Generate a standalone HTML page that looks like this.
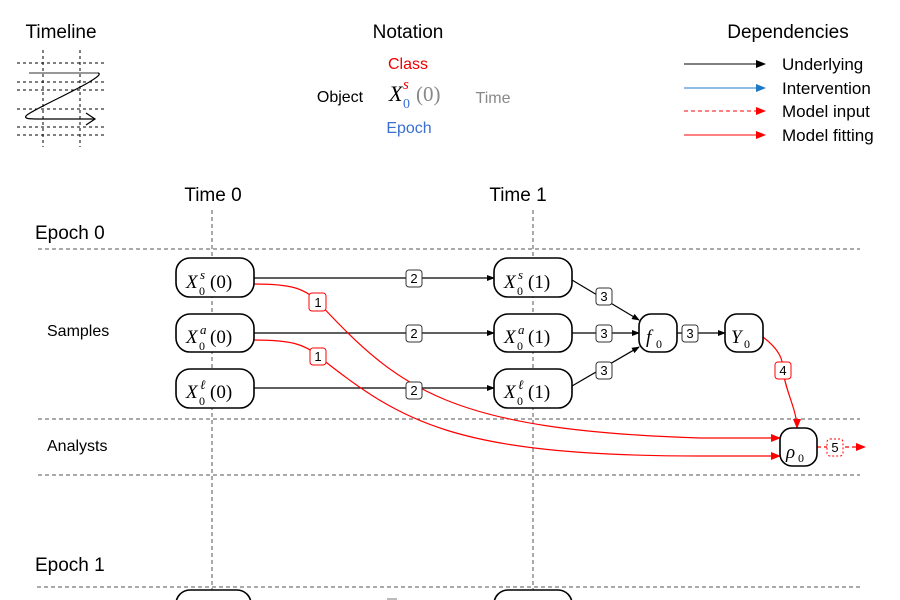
<!DOCTYPE html>
<html><head><style>
body{margin:0;background:#fff;}
svg{display:block;font-family:"Liberation Sans",sans-serif;}
.m{font-family:"Liberation Serif",serif;font-style:italic;}
</style></head><body>
<svg width="900" height="600" viewBox="0 0 900 600" xmlns="http://www.w3.org/2000/svg">
<defs>
<marker id="ab" markerWidth="8" markerHeight="8" refX="7" refY="4" orient="auto" markerUnits="userSpaceOnUse"><path d="M0,1 L8,4 L0,7z" fill="#000"/></marker>
<marker id="ar" markerWidth="10" markerHeight="10" refX="9" refY="5" orient="auto" markerUnits="userSpaceOnUse"><path d="M0,1 L10,5 L0,9z" fill="#f00"/></marker>
<marker id="au" markerWidth="10" markerHeight="10" refX="9" refY="5" orient="auto" markerUnits="userSpaceOnUse"><path d="M0,1 L10,5 L0,9z" fill="#1f77c8"/></marker>
<marker id="ak" markerWidth="10" markerHeight="10" refX="9" refY="5" orient="auto" markerUnits="userSpaceOnUse"><path d="M0,1 L10,5 L0,9z" fill="#000"/></marker>
</defs>
<!-- Timeline -->
<text x="61" y="38" font-size="19" text-anchor="middle">Timeline</text>
<g stroke="#000" stroke-width="1" stroke-dasharray="3,3">
<line x1="43" y1="50" x2="43" y2="147"/><line x1="80" y1="50" x2="80" y2="147"/>
<line x1="17" y1="63" x2="106" y2="63"/><line x1="17" y1="82" x2="106" y2="82"/><line x1="17" y1="90" x2="106" y2="90"/>
<line x1="17" y1="109" x2="106" y2="109"/><line x1="17" y1="127" x2="106" y2="127"/><line x1="17" y1="135" x2="106" y2="135"/>
</g>
<line x1="29" y1="73" x2="98" y2="73" stroke="#777" stroke-width="1.5"/>
<path d="M98,73 C110,76 30,110 26,116 C24,119 30,119 40,119 L95,119" fill="none" stroke="#000" stroke-width="1.2"/>
<path d="M86,113 L95,119 L86,125" fill="none" stroke="#000" stroke-width="1.2"/>
<!-- Notation -->
<text x="408" y="38" font-size="19" text-anchor="middle">Notation</text>
<text x="408" y="69" font-size="16" fill="#e00" text-anchor="middle">Class</text>
<text x="340" y="102" font-size="16" text-anchor="middle">Object</text>
<text x="389" y="101" font-size="22" class="m">X</text>
<text x="403" y="108" font-size="14" fill="#3a6fd0" font-family="Liberation Serif,serif">0</text>
<text x="403" y="89" font-size="15" fill="#e00" class="m">s</text>
<text x="416" y="101" font-size="21" fill="#888" font-family="Liberation Serif,serif">(0)</text>
<text x="493" y="103" font-size="16" fill="#888" text-anchor="middle">Time</text>
<text x="409" y="133" font-size="16" fill="#3a6fd0" text-anchor="middle">Epoch</text>
<!-- Dependencies -->
<text x="788" y="38" font-size="19" text-anchor="middle">Dependencies</text>
<line x1="684" y1="64" x2="765" y2="64" stroke="#000" marker-end="url(#ak)"/>
<line x1="684" y1="88" x2="765" y2="88" stroke="#1f77c8" marker-end="url(#au)"/>
<line x1="684" y1="111" x2="765" y2="111" stroke="#f00" stroke-dasharray="4,3" marker-end="url(#ar)"/>
<line x1="684" y1="135" x2="765" y2="135" stroke="#f00" marker-end="url(#ar)"/>
<g font-size="17"><text x="782" y="70">Underlying</text><text x="782" y="94">Intervention</text><text x="782" y="117">Model input</text><text x="782" y="141">Model fitting</text></g>
<!-- Grid -->
<text x="213" y="201" font-size="19" text-anchor="middle">Time 0</text>
<text x="518" y="201" font-size="19" text-anchor="middle">Time 1</text>
<text x="35" y="239" font-size="19">Epoch 0</text>
<text x="35" y="571" font-size="19">Epoch 1</text>
<text x="47" y="336" font-size="16">Samples</text>
<text x="47" y="451" font-size="16">Analysts</text>
<g stroke="#555" stroke-width="1" stroke-dasharray="4,3">
<line x1="212" y1="210" x2="212" y2="600"/><line x1="533" y1="210" x2="533" y2="600"/>
<line x1="38" y1="249" x2="860" y2="249"/><line x1="38" y1="419" x2="860" y2="419"/>
<line x1="38" y1="475" x2="860" y2="475"/><line x1="37" y1="587" x2="860" y2="587"/>
</g>
<!-- edges -->
<g stroke="#000" stroke-width="1.2" fill="none">
<line x1="254" y1="278" x2="494" y2="278" marker-end="url(#ab)"/>
<line x1="254" y1="333" x2="494" y2="333" marker-end="url(#ab)"/>
<line x1="254" y1="388" x2="494" y2="388" marker-end="url(#ab)"/>
<line x1="572" y1="280" x2="639" y2="320" marker-end="url(#ab)"/>
<line x1="572" y1="333" x2="639" y2="333" marker-end="url(#ab)"/>
<line x1="572" y1="386" x2="639" y2="347" marker-end="url(#ab)"/>
<line x1="677" y1="333" x2="725" y2="333" marker-end="url(#ab)"/>
</g>
<g stroke="#f00" stroke-width="1.2" fill="none">
<path d="M254,284 C290,284 305,288 318,302 C400,390 450,430 700,438 L780,438" marker-end="url(#ar)"/>
<path d="M254,340 C290,340 305,344 318,356 C400,420 450,456 700,456 L780,456" marker-end="url(#ar)"/>
<path d="M763,337 C780,350 783,360 783,370 C785,390 797,410 797,428" marker-end="url(#ar)"/>
<line x1="817" y1="447" x2="865" y2="447" stroke-dasharray="4,3" marker-end="url(#ar)"/>
</g>
<!-- nodes -->
<g fill="#fff" stroke="#000" stroke-width="1.6">
<rect x="176" y="258" width="78" height="39" rx="14"/>
<rect x="176" y="314" width="78" height="38" rx="14"/>
<rect x="176" y="369" width="78" height="39" rx="14"/>
<rect x="494" y="258" width="78" height="39" rx="14"/>
<rect x="494" y="314" width="78" height="38" rx="14"/>
<rect x="494" y="369" width="78" height="39" rx="14"/>
<rect x="639" y="314" width="38" height="38" rx="12"/>
<rect x="725" y="314" width="38" height="38" rx="12"/>
<rect x="780" y="428" width="37" height="38" rx="12"/>
<rect x="176" y="590" width="75" height="30" rx="14"/>
<rect x="494" y="590" width="78" height="30" rx="14"/>
</g>
<g font-size="19" class="m">
<text x="186" y="288">X</text><text x="186" y="343">X</text><text x="186" y="398">X</text>
<text x="504" y="288">X</text><text x="504" y="343">X</text><text x="504" y="398">X</text>
</g>
<g font-size="12" font-family="Liberation Serif,serif">
<text x="199" y="295">0</text><text x="199" y="350">0</text><text x="199" y="405">0</text>
<text x="517" y="295">0</text><text x="517" y="350">0</text><text x="517" y="405">0</text>
</g>
<g font-size="13" class="m">
<text x="200" y="279">s</text><text x="200" y="334">a</text><text x="200" y="389">ℓ</text>
<text x="518" y="279">s</text><text x="518" y="334">a</text><text x="518" y="389">ℓ</text>
</g>
<g font-size="19" font-family="Liberation Serif,serif">
<text x="210" y="288">(0)</text><text x="210" y="343">(0)</text><text x="210" y="398">(0)</text>
<text x="528" y="288">(1)</text><text x="528" y="343">(1)</text><text x="528" y="398">(1)</text>
</g>
<text x="646" y="343" font-size="19" class="m">f</text><text x="656" y="348" font-size="12" font-family="Liberation Serif,serif">0</text>
<text x="731" y="343" font-size="19" class="m">Y</text><text x="744" y="348" font-size="12" font-family="Liberation Serif,serif">0</text>
<text x="786" y="458" font-size="19" class="m">ρ</text><text x="798" y="462" font-size="12" font-family="Liberation Serif,serif">0</text>
<!-- label boxes -->
<g font-size="13" text-anchor="middle">
<g fill="#fff" stroke="#333" stroke-width="1">
<rect x="406" y="270" width="16" height="17" rx="3"/><rect x="406" y="325" width="16" height="17" rx="3"/><rect x="406" y="382" width="16" height="17" rx="3"/>
<rect x="596" y="288" width="16" height="17" rx="3"/><rect x="596" y="325" width="16" height="17" rx="3"/><rect x="596" y="362" width="16" height="17" rx="3"/>
<rect x="682" y="325" width="16" height="17" rx="3"/>
</g>
<g fill="#fff" stroke="#f00" stroke-width="1">
<rect x="309" y="293" width="17" height="18" rx="3"/><rect x="310" y="348" width="16" height="17" rx="3"/>
<rect x="775" y="362" width="16" height="17" rx="3"/>
<rect x="827" y="439" width="16" height="17" rx="3" stroke-dasharray="2,2"/>
</g>
<text x="414" y="283">2</text><text x="414" y="338">2</text><text x="414" y="395">2</text>
<text x="604" y="301">3</text><text x="604" y="338">3</text><text x="604" y="375">3</text><text x="690" y="338">3</text>
<text x="318" y="307">1</text><text x="318" y="361">1</text><text x="783" y="375">4</text><text x="835" y="452">5</text>
</g>
<rect x="387" y="598" width="10" height="2" fill="#bbb"/>
</svg>
</body></html>
